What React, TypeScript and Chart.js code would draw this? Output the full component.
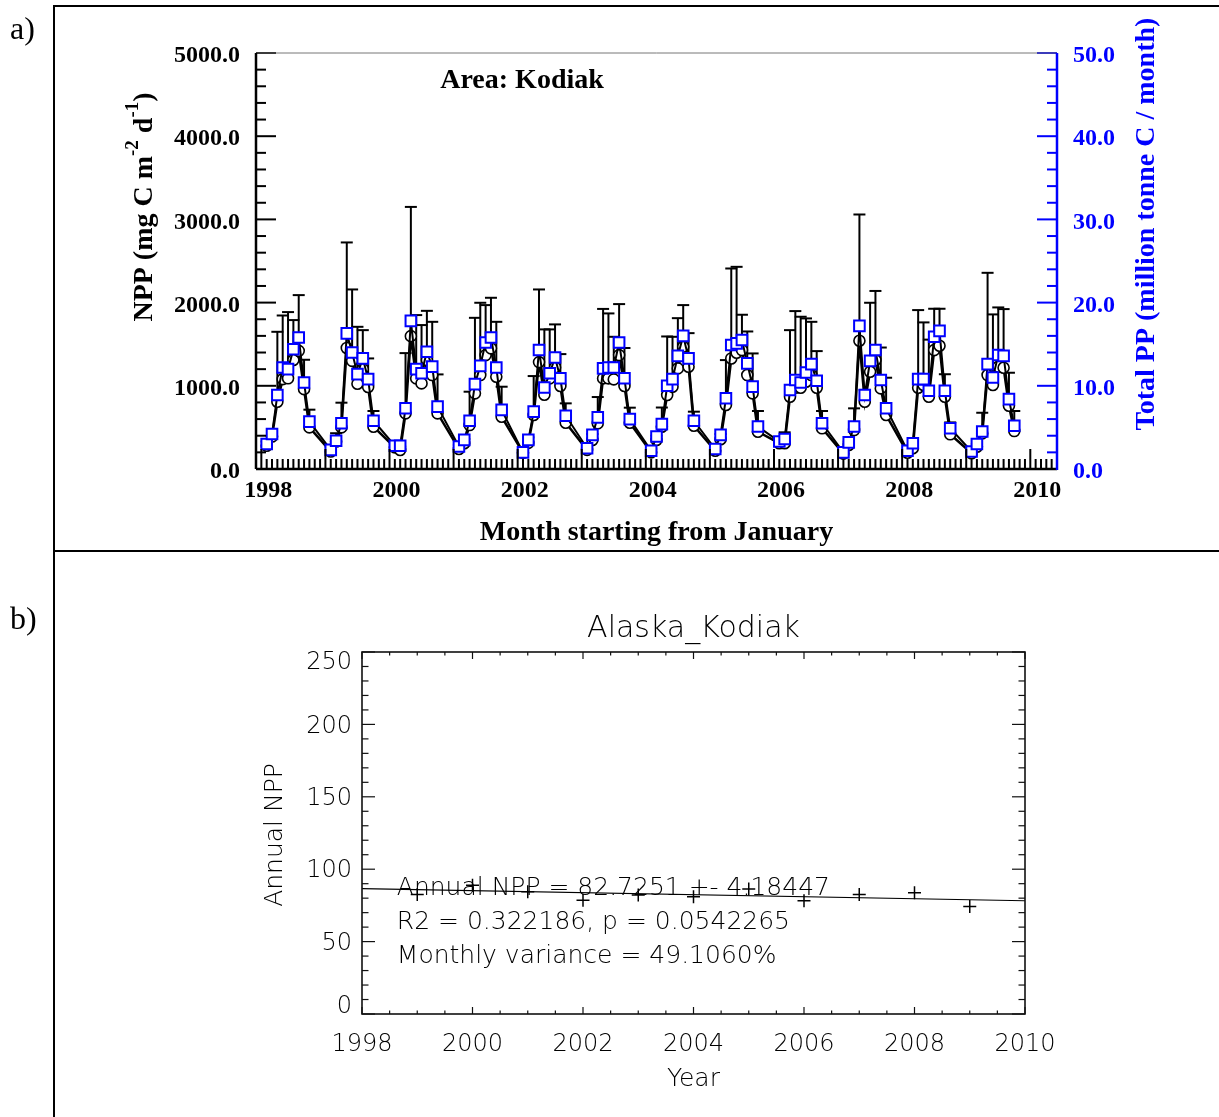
import { useEffect, useRef } from 'react';
import { Chart, registerables } from 'chart.js';

Chart.register(...registerables);

// ---------- Panel a data ----------
const years = [1998, 1999, 2000, 2001, 2002, 2003, 2004, 2005, 2006, 2007, 2008, 2009];
const seasonMonths = [2, 3, 4, 5, 6, 7, 8, 9, 10]; // Feb..Oct

// NPP (mg C m-2 d-1), black circles
const nppMean = [
  [280, 390, 808, 1080, 1090, 1310, 1420, 960, 500],
  [210, 330, 500, 1455, 1300, 1025, 1200, 985, 508],
  [260, 228, 669, 1597, 1089, 1029, 1309, 1129, 669],
  [240, 309, 528, 909, 1129, 1369, 1450, 1109, 628],
  [196, 314, 649, 1285, 893, 1089, 1221, 997, 556],
  [230, 348, 549, 1089, 1089, 1077, 1369, 997, 556],
  [200, 348, 508, 889, 989, 1209, 1469, 1229, 520],
  [220, 357, 769, 1329, 1397, 1429, 1129, 909, 448],
  [310, 309, 869, 977, 977, 1049, 1129, 977, 489],
  [185, 288, 468, 1541, 808, 1169, 1309, 969, 649],
  [195, 249, 977, 1009, 869, 1429, 1481, 869, 417],
  [190, 268, 428, 1129, 1009, 1229, 1217, 761, 456],
];

// upper end of the NPP error bars
const nppUpper = [
  [330, 470, 1649, 1845, 1886, 1790, 2090, 1313, 713],
  [260, 430, 797, 2723, 2158, 1709, 1669, 1329, 697],
  [300, 270, 1393, 3150, 1850, 1730, 1901, 1769, 1137],
  [290, 360, 929, 1817, 1998, 1970, 2058, 1769, 989],
  [230, 380, 1117, 2158, 1678, 1678, 1738, 1381, 789],
  [270, 420, 865, 1924, 1870, 1589, 1982, 1454, 737],
  [240, 400, 739, 1593, 1589, 1813, 1970, 1633, 689],
  [260, 420, 1309, 2410, 2430, 1854, 1653, 1389, 697],
  [360, 441, 1669, 1898, 1830, 1810, 1769, 1417, 697],
  [220, 330, 729, 3059, 950, 1998, 2140, 1460, 1097],
  [230, 290, 1910, 1762, 1555, 1926, 1926, 1139, 560],
  [220, 300, 676, 2358, 1858, 1942, 1922, 1157, 697],
];

// Total PP (million tonne C / month), blue squares
const totalPP = [
  [3.0, 4.2, 8.9, 12.2, 12.0, 14.4, 15.8, 10.4, 5.7],
  [2.3, 3.4, 5.5, 16.3, 14.0, 11.4, 13.3, 10.8, 5.8],
  [2.8, 2.8, 7.3, 17.8, 12.0, 11.5, 14.1, 12.3, 7.5],
  [2.7, 3.5, 5.8, 10.2, 12.4, 15.2, 15.8, 12.2, 7.1],
  [2.0, 3.5, 6.9, 14.3, 9.8, 11.5, 13.4, 10.9, 6.4],
  [2.5, 4.1, 6.2, 12.1, 12.2, 12.2, 15.2, 10.9, 6.0],
  [2.2, 3.9, 5.4, 10.0, 10.8, 13.6, 16.0, 13.3, 5.8],
  [2.4, 4.1, 8.5, 14.9, 15.1, 15.5, 12.7, 9.9, 5.1],
  [3.3, 3.6, 9.5, 10.7, 10.4, 11.6, 12.6, 10.6, 5.5],
  [2.0, 3.2, 5.1, 17.2, 8.9, 13.0, 14.3, 10.7, 7.3],
  [2.2, 3.1, 10.8, 10.8, 9.4, 15.9, 16.6, 9.4, 4.9],
  [2.1, 3.0, 4.5, 12.6, 11.0, 13.7, 13.6, 8.4, 5.2],
];

const xTickYears = [1998, 2000, 2002, 2004, 2006, 2008, 2010];
const nppTicks = [0, 1000, 2000, 3000, 4000, 5000];
const ppTicks = [0, 10, 20, 30, 40, 50];

// ---------- Panel b data ----------
const annualYears = [1999, 2000, 2001, 2002, 2003, 2004, 2005, 2006, 2007, 2008, 2009];
const annualNPP = [82.5, 89.0, 84.5, 78.5, 82.2, 81.0, 86.3, 78.2, 82.5, 83.7, 74.3];
const trendYears = [1998, 2010];
const trendNPP = [86.6, 78.2];
const annualTicks = [0, 50, 100, 150, 200, 250];
const annotationLines = [
  'Annual NPP = 82.7251 +- 4.18447',
  'R2 = 0.322186, p = 0.0542265',
  'Monthly variance = 49.1060%',
];
const annotationX = 1998.63;
const annotationY = [87.7, 64.2, 40.1];

const SERIF = '"Liberation Serif", "Times New Roman", serif';
const SANS = '"DejaVu Sans", "Liberation Sans", sans-serif';
const BLUE = '#0000ff';
const INK = '#000';

const monthIndex = (year: number, month: number) => (year - 1998) * 12 + month;

function buildSeries(rows: number[][]) {
  const pts: { x: number; y: number }[] = [];
  years.forEach((yr, i) => {
    seasonMonths.forEach((mo, j) => {
      pts.push({ x: monthIndex(yr, mo), y: rows[i][j] });
    });
  });
  return pts;
}

function seg(ctx: CanvasRenderingContext2D, x1: number, y1: number, x2: number, y2: number) {
  ctx.beginPath();
  ctx.moveTo(x1, y1);
  ctx.lineTo(x2, y2);
  ctx.stroke();
}

export default function App() {
  const refA = useRef<HTMLCanvasElement>(null);
  const refB = useRef<HTMLCanvasElement>(null);

  useEffect(() => {
    const nppPts = buildSeries(nppMean);
    const upperPts = buildSeries(nppUpper);
    const ppPts = buildSeries(totalPP);

    const panelAPlugin = {
      id: 'panelA',
      beforeDatasetsDraw(chart: any) {
        const { ctx, scales } = chart;
        const x = scales.x;
        const y = scales.y;
        ctx.save();
        ctx.strokeStyle = '#000';
        ctx.lineWidth = 2;
        nppPts.forEach((p, i) => {
          const px = x.getPixelForValue(p.x);
          const y0 = y.getPixelForValue(p.y);
          const y1 = y.getPixelForValue(upperPts[i].y);
          seg(ctx, px, y0, px, y1);
          seg(ctx, px - 6, y1, px + 6, y1);
        });
        ctx.restore();
      },
      afterDraw(chart: any) {
        const { ctx, chartArea: a, scales } = chart;
        const x = scales.x;
        const y = scales.y;
        const y2 = scales.y2;
        ctx.save();
        ctx.strokeStyle = '#000';
        ctx.lineWidth = 2;
        for (let v = 0; v <= 5000; v += 200) {
          const py = y.getPixelForValue(v);
          seg(ctx, a.left, py, a.left + (v % 1000 === 0 ? 20 : 10), py);
        }
        for (let m = 1; m < 150; m++) {
          const px = x.getPixelForValue(m);
          const len = (m - 1) % 12 === 0 ? 20 : 10;
          seg(ctx, px, a.bottom, px, a.bottom - len);
        }
        ctx.strokeStyle = BLUE;
        for (let v = 0; v <= 50; v += 2) {
          const py = y2.getPixelForValue(v);
          seg(ctx, a.right, py, a.right - (v % 10 === 0 ? 20 : 10), py);
        }
        ctx.strokeStyle = '#777';
        ctx.lineWidth = 1;
        seg(ctx, a.left, a.top, a.right, a.top);
        ctx.strokeStyle = '#000';
        ctx.lineWidth = 2.5;
        seg(ctx, a.left, a.top, a.left, a.bottom);
        seg(ctx, a.left, a.bottom, a.right, a.bottom);
        ctx.strokeStyle = BLUE;
        seg(ctx, a.right, a.top, a.right, a.bottom + 1);

        ctx.fillStyle = '#000';
        ctx.font = `bold 28px ${SERIF}`;
        ctx.textAlign = 'center';
        ctx.textBaseline = 'middle';
        ctx.fillText('Month starting from January', (a.left + a.right) / 2, a.bottom + 64);

        ctx.textAlign = 'left';
        ctx.fillText('Area: Kodiak', x.getPixelForValue(34.5), y.getPixelForValue(4672));

        ctx.save();
        ctx.translate(a.left - 113, 207);
        ctx.rotate(-Math.PI / 2);
        const parts = [
          { t: 'NPP (mg C m', sup: false },
          { t: '-2', sup: true },
          { t: ' d', sup: false },
          { t: '-1', sup: true },
          { t: ')', sup: false },
        ];
        const mainFont = `bold 28px ${SERIF}`;
        const supFont = `bold 19px ${SERIF}`;
        let total = 0;
        parts.forEach((p) => {
          ctx.font = p.sup ? supFont : mainFont;
          total += ctx.measureText(p.t).width;
        });
        let cx = -total / 2;
        ctx.textAlign = 'left';
        ctx.textBaseline = 'alphabetic';
        parts.forEach((p) => {
          ctx.font = p.sup ? supFont : mainFont;
          ctx.fillText(p.t, cx, p.sup ? -5 : 9);
          cx += ctx.measureText(p.t).width;
        });
        ctx.restore();

        ctx.save();
        ctx.translate(a.right + 90, 224);
        ctx.rotate(-Math.PI / 2);
        ctx.fillStyle = BLUE;
        ctx.font = `bold 28px ${SERIF}`;
        ctx.textAlign = 'center';
        ctx.textBaseline = 'middle';
        ctx.fillText('Total PP (million tonne C / month)', 0, 0);
        ctx.restore();

        ctx.restore();
      },
    };

    const chartA = new Chart(refA.current as HTMLCanvasElement, {
      type: 'line',
      data: {
        datasets: [
          {
            label: 'Total PP',
            data: ppPts,
            yAxisID: 'y2',
            borderColor: '#000',
            borderWidth: 2,
            pointStyle: 'rect',
            pointRadius: 7.5,
            pointBorderColor: BLUE,
            pointBackgroundColor: '#fff',
            pointBorderWidth: 2,
            order: 0,
          },
          {
            label: 'NPP',
            data: nppPts,
            yAxisID: 'y',
            borderColor: '#000',
            borderWidth: 2.5,
            pointStyle: 'circle',
            pointRadius: 5.5,
            pointBorderColor: '#000',
            pointBackgroundColor: '#fff',
            pointBorderWidth: 1.6,
            order: 1,
          },
        ],
      },
      options: {
        animation: false,
        responsive: false,
        maintainAspectRatio: false,
        layout: { padding: { top: 53, left: 0, right: 0, bottom: 0 } },
        plugins: { legend: { display: false }, tooltip: { enabled: false } },
        scales: {
          x: {
            type: 'linear',
            min: 0,
            max: 150,
            grid: { display: false, drawTicks: false },
            border: { display: false },
            afterBuildTicks: (axis: any) => {
              axis.ticks = xTickYears.map((yr) => ({ value: monthIndex(yr, 1) }));
            },
            ticks: {
              autoSkip: false,
              maxRotation: 0,
              minRotation: 0,
              padding: 7,
              labelOffset: 7,
              color: '#000',
              font: { family: SERIF, size: 24, weight: 'bold' },
              callback: (v: any) => String(1998 + (Number(v) - 1) / 12),
            },
            afterFit: (s: any) => {
              s.height = 82;
            },
          },
          y: {
            type: 'linear',
            position: 'left',
            min: 0,
            max: 5000,
            grid: { display: false, drawTicks: false },
            border: { display: false },
            afterBuildTicks: (axis: any) => {
              axis.ticks = nppTicks.map((v) => ({ value: v }));
            },
            ticks: {
              padding: 16,
              labelOffset: 3,
              color: '#000',
              font: { family: SERIF, size: 24, weight: 'bold' },
              callback: (v: any) => Number(v).toFixed(1),
            },
            afterFit: (s: any) => {
              s.width = 256;
            },
          },
          y2: {
            type: 'linear',
            position: 'right',
            min: 0,
            max: 50,
            grid: { display: false, drawTicks: false },
            border: { display: false },
            afterBuildTicks: (axis: any) => {
              axis.ticks = ppTicks.map((v) => ({ value: v }));
            },
            ticks: {
              padding: 16,
              labelOffset: 3,
              color: BLUE,
              font: { family: SERIF, size: 24, weight: 'bold' },
              callback: (v: any) => Number(v).toFixed(1),
            },
            afterFit: (s: any) => {
              s.width = 162;
            },
          },
        },
      },
      plugins: [panelAPlugin],
    } as any);

    // ---------- Panel b ----------
    const panelBPlugin = {
      id: 'panelB',
      afterDraw(chart: any) {
        const { ctx, chartArea: a, scales } = chart;
        const x = scales.x;
        const y = scales.y;
        ctx.save();
        ctx.strokeStyle = '#111';
        ctx.lineWidth = 1.2;
        for (let v = 0; v <= 250; v += 10) {
          const py = y.getPixelForValue(v);
          const len = v % 50 === 0 ? 13 : 6.5;
          seg(ctx, a.left, py, a.left + len, py);
          seg(ctx, a.right, py, a.right - len, py);
        }
        for (let t = 1998; t <= 2010; t += 0.5) {
          const px = x.getPixelForValue(t);
          const len = (t - 1998) % 2 === 0 ? 7 : 3.5;
          seg(ctx, px, a.bottom, px, a.bottom - len);
          seg(ctx, px, a.top, px, a.top + len);
        }
        ctx.lineWidth = 1.6;
        ctx.strokeRect(a.left, a.top, a.right - a.left, a.bottom - a.top);

        ctx.fillStyle = INK;
        ctx.font = `200 24px ${SANS}`;
        ctx.textAlign = 'right';
        ctx.textBaseline = 'middle';
        annualTicks.forEach((v, i) => {
          const off = i === annualTicks.length - 1 ? 11 : i === 0 ? -7 : 2;
          ctx.fillText(String(v), a.left - 10, y.getPixelForValue(v) + off);
        });

        ctx.textAlign = 'center';
        ctx.font = `200 30px ${SANS}`;
        ctx.fillText('Alaska_Kodiak', (a.left + a.right) / 2, a.top - 23);
        ctx.font = `200 25px ${SANS}`;
        ctx.fillText('Year', (a.left + a.right) / 2, a.bottom + 65);

        ctx.save();
        ctx.translate(a.left - 87, (a.top + a.bottom) / 2 + 2);
        ctx.rotate(-Math.PI / 2);
        ctx.fillText('Annual NPP', 0, 0);
        ctx.restore();

        ctx.textAlign = 'left';
        annotationLines.forEach((txt, i) => {
          ctx.fillText(txt, x.getPixelForValue(annotationX), y.getPixelForValue(annotationY[i]) + 1);
        });
        ctx.restore();
      },
    };

    const chartB = new Chart(refB.current as HTMLCanvasElement, {
      type: 'line',
      data: {
        datasets: [
          {
            label: 'Annual NPP',
            data: annualYears.map((yr, i) => ({ x: yr, y: annualNPP[i] })),
            showLine: false,
            pointStyle: 'cross',
            pointRadius: 6.5,
            pointBorderColor: '#000',
            pointBorderWidth: 1.5,
          },
          {
            label: 'Trend',
            data: trendYears.map((yr, i) => ({ x: yr, y: trendNPP[i] })),
            borderColor: '#000',
            borderWidth: 1.2,
            pointRadius: 0,
          },
        ],
      },
      options: {
        animation: false,
        responsive: false,
        maintainAspectRatio: false,
        layout: { padding: { top: 99, left: 0, right: 194, bottom: 0 } },
        plugins: { legend: { display: false }, tooltip: { enabled: false } },
        scales: {
          x: {
            type: 'linear',
            min: 1998,
            max: 2010,
            grid: { display: false, drawTicks: false },
            border: { display: false },
            ticks: {
              stepSize: 2,
              autoSkip: false,
              maxRotation: 0,
              minRotation: 0,
              padding: 16,
              color: INK,
              font: { family: SANS, size: 24, weight: 200 },
              callback: (v: any) => String(v),
            },
            afterFit: (s: any) => {
              s.height = 103;
            },
          },
          y: {
            type: 'linear',
            min: 0,
            max: 250,
            grid: { display: false, drawTicks: false },
            border: { display: false },
            afterBuildTicks: (axis: any) => {
              axis.ticks = annualTicks.map((v) => ({ value: v }));
            },
            ticks: { display: false },
            afterFit: (s: any) => {
              s.width = 362;
            },
          },
        },
      },
      plugins: [panelBPlugin],
    } as any);

    return () => {
      chartA.destroy();
      chartB.destroy();
    };
  }, []);

  const line = (l: number, t: number, w: number, h: number) => (
    <div style={{ position: 'absolute', left: l, top: t, width: w, height: h, background: '#000' }} />
  );

  return (
    <div
      style={{
        position: 'absolute',
        left: 0,
        top: 0,
        width: 1219,
        height: 1117,
        background: '#fff',
        overflow: 'hidden',
      }}
    >
      <canvas
        ref={refA}
        width={1219}
        height={551}
        style={{ position: 'absolute', left: 0, top: 0, width: 1219, height: 551 }}
      />
      <canvas
        ref={refB}
        width={1219}
        height={564}
        style={{ position: 'absolute', left: 0, top: 553, width: 1219, height: 564 }}
      />
      {line(54, 5, 1165, 2)}
      {line(53, 5, 2, 1112)}
      {line(54, 550, 1165, 2)}
      <div
        style={{
          position: 'absolute',
          left: 10,
          top: 10,
          fontFamily: SERIF,
          fontSize: 32,
          lineHeight: '36px',
          color: '#000',
        }}
      >
        a)
      </div>
      <div
        style={{
          position: 'absolute',
          left: 10,
          top: 600,
          fontFamily: SERIF,
          fontSize: 32,
          lineHeight: '36px',
          color: '#000',
        }}
      >
        b)
      </div>
    </div>
  );
}
